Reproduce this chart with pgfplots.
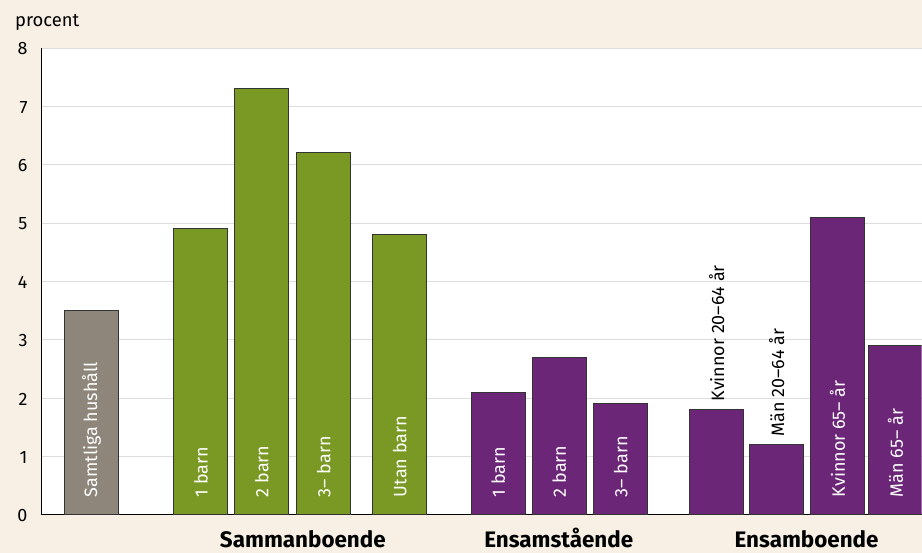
\documentclass[border=0pt]{standalone}
\usepackage{pgfplots}
\pgfplotsset{compat=1.18}
\usepackage{fontspec}
\setmainfont{Fira Sans}
\definecolor{bg}{HTML}{F8F0E4}
\definecolor{cgray}{HTML}{8E867A}
\definecolor{cgreen}{HTML}{7A9924}
\definecolor{cpurple}{HTML}{6B2677}
\definecolor{cedge}{HTML}{333333}
\definecolor{cgrid}{HTML}{DDDDDD}
\begin{document}
\begin{tikzpicture}[x=1bp,y=1bp]
\fill[bg] (0,0) rectangle (922,553);
\begin{axis}[
  at={(41bp,38bp)}, anchor=south west,
  scale only axis, width=881bp, height=467bp,
  xmin=41, xmax=922, ymin=0, ymax=8,
  axis background/.style={fill=white},
  axis x line*=bottom, axis y line*=left,
  axis line style={-, draw=black, line width=0.9pt},
  xtick=\empty, ytick={0,1,...,8},
  major tick length=0pt,
  ymajorgrids, grid style={cgrid, line width=0.8pt},
  /pgf/number format/assume math mode=true,
  yticklabel style={font=\fontsize{18}{21}\selectfont, xshift=-10bp, yshift=-1bp},
  clip mode=individual,
]
\addplot[ybar, bar width=54, fill=cgray, draw=cedge, line width=1pt] coordinates {(91.5,3.5)};
\addplot[ybar, bar width=54, fill=cgreen, draw=cedge, line width=1pt] coordinates {(201,4.9) (262,7.3) (324,6.2) (400,4.8)};
\addplot[ybar, bar width=54, fill=cpurple, draw=cedge, line width=1pt] coordinates {(498.5,2.1) (559.5,2.7) (621,1.9) (717,1.8) (777,1.2) (838,5.1) (896,2.9)};
\begin{scope}[every node/.style={font=\fontsize{18}{21}\selectfont, rotate=90, anchor=west, inner sep=0pt}]
\node[white] at (axis cs:91.5,0.3) {Samtliga hushåll};
\node[white] at (axis cs:201,0.3) {1 barn};
\node[white] at (axis cs:262,0.3) {2 barn};
\node[white] at (axis cs:324,0.3) {3– barn};
\node[white] at (axis cs:400,0.3) {Utan barn};
\node[white] at (axis cs:498.5,0.3) {1 barn};
\node[white] at (axis cs:559.5,0.3) {2 barn};
\node[white] at (axis cs:621,0.3) {3– barn};
\node[black] at (axis cs:717,1.94) {Kvinnor 20–64 år};
\node[black] at (axis cs:777,1.34) {Män 20–64 år};
\node[white] at (axis cs:838,0.3) {Kvinnor 65– år};
\node[white] at (axis cs:896,0.3) {Män 65– år};
\end{scope}
\begin{scope}[every node/.style={font=\fontsize{22.5}{26}\selectfont\bfseries, anchor=base, inner sep=0pt}]
\node at (axis cs:303,0) [yshift=-33bp] {Sammanboende};
\node at (axis cs:559,0) [yshift=-33bp] {Ensamstående};
\node at (axis cs:807,0) [yshift=-33bp] {Ensamboende};
\end{scope}
\node[font=\fontsize{18.5}{21}\selectfont, anchor=base west, inner sep=0pt] at (axis cs:41,8) [xshift=-26bp, yshift=21bp] {procent};
\end{axis}
\end{tikzpicture}
\end{document}
